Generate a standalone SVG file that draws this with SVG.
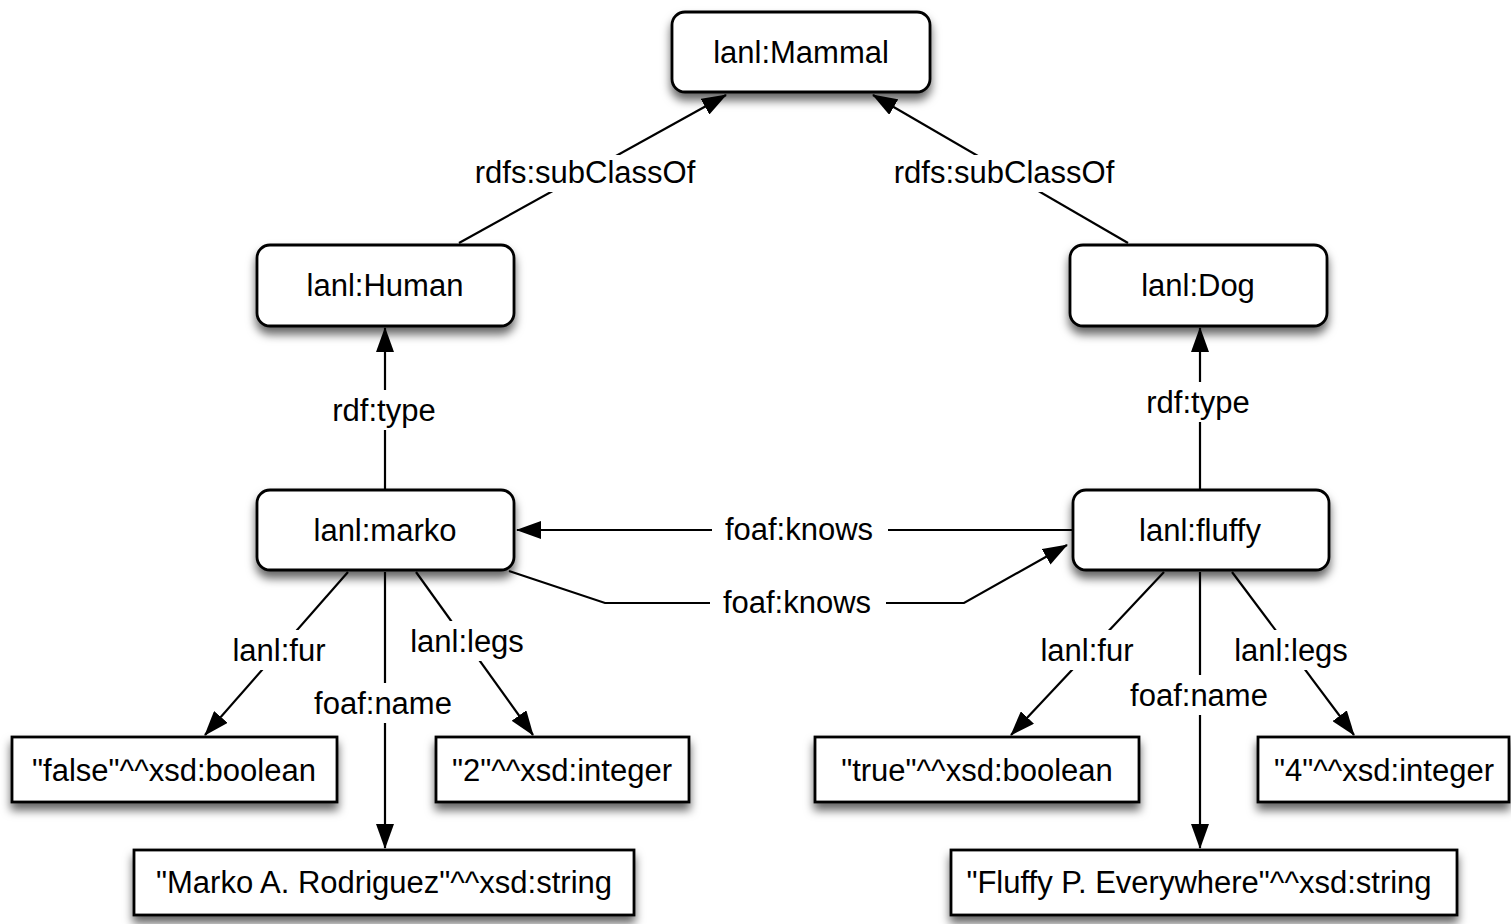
<svg xmlns="http://www.w3.org/2000/svg" width="1511" height="924" viewBox="0 0 1511 924">
<style>
.node rect{fill:#fff;stroke:#000;stroke-width:2.8;filter:url(#sh)}
.node text,.lbl text{font-family:"Liberation Sans",Arial,sans-serif;font-size:31px;fill:#000;text-anchor:middle}
.conn line,.conn polyline{stroke:#000;stroke-width:2.2;fill:none;marker-end:url(#ah)}
.lbl rect{fill:#fff;stroke:none}
</style>
<defs>
<filter id="sh" x="-20%" y="-30%" width="140%" height="180%">
<feDropShadow dx="0" dy="7" stdDeviation="5" flood-color="#000" flood-opacity="0.6"/>
</filter>
<marker id="ah" viewBox="0 0 25 18" refX="24" refY="9" markerWidth="25" markerHeight="18" markerUnits="userSpaceOnUse" orient="auto">
<path d="M0,0 L25,9 L0,18 Z" fill="#000"/>
</marker>
</defs>
<g id="connectors" class="conn">
<line x1="459" y1="243" x2="726" y2="95"/>
<line x1="1128" y1="243" x2="873" y2="95"/>
<line x1="385" y1="490" x2="385" y2="328"/>
<line x1="1200" y1="490" x2="1200" y2="328"/>
<line x1="1073" y1="530" x2="517" y2="530"/>
<polyline points="509,571 605,603 964,603 1067,545"/>
<line x1="348" y1="572" x2="205" y2="735"/>
<line x1="416" y1="572" x2="533" y2="735"/>
<line x1="385" y1="572" x2="385" y2="848"/>
<line x1="1164" y1="572" x2="1011" y2="735"/>
<line x1="1232" y1="572" x2="1354" y2="735"/>
<line x1="1200" y1="572" x2="1200" y2="848"/>
</g>
<g id="labels" class="lbl">
<rect x="466" y="155" width="238" height="37"/><text x="585" y="183">rdfs:subClassOf</text>
<rect x="885" y="155" width="238" height="37"/><text x="1004" y="183">rdfs:subClassOf</text>
<rect x="326" y="390" width="118" height="40"/><text x="384" y="421">rdf:type</text>
<rect x="1140" y="382" width="118" height="40"/><text x="1198" y="413">rdf:type</text>
<rect x="712" y="510" width="176" height="40"/><text x="799" y="540">foaf:knows</text>
<rect x="710" y="583" width="176" height="40"/><text x="797" y="613">foaf:knows</text>
<rect x="226" y="630" width="106" height="40"/><text x="279" y="661">lanl:fur</text>
<rect x="406" y="621" width="122" height="40"/><text x="467" y="652">lanl:legs</text>
<rect x="308" y="683" width="150" height="40"/><text x="383" y="714">foaf:name</text>
<rect x="1034" y="630" width="106" height="40"/><text x="1087" y="661">lanl:fur</text>
<rect x="1230" y="630" width="122" height="40"/><text x="1291" y="661">lanl:legs</text>
<rect x="1124" y="675" width="150" height="40"/><text x="1199" y="706">foaf:name</text>
</g>
<g id="mammal" class="node"><rect x="672" y="12" width="258" height="80" rx="13"/><text x="801" y="63">lanl:Mammal</text></g>
<g id="human" class="node"><rect x="257" y="245" width="257" height="81" rx="13"/><text x="385" y="296">lanl:Human</text></g>
<g id="dog" class="node"><rect x="1070" y="245" width="257" height="81" rx="13"/><text x="1198" y="296">lanl:Dog</text></g>
<g id="marko" class="node"><rect x="257" y="490" width="257" height="80" rx="13"/><text x="385" y="541">lanl:marko</text></g>
<g id="fluffy" class="node"><rect x="1073" y="490" width="256" height="80" rx="13"/><text x="1200" y="541">lanl:fluffy</text></g>
<g id="false" class="node"><rect x="12" y="737" width="325" height="65"/><text x="174" y="781">"false"^^xsd:boolean</text></g>
<g id="two" class="node"><rect x="436" y="737" width="253" height="65"/><text x="562" y="781">"2"^^xsd:integer</text></g>
<g id="markoname" class="node"><rect x="134" y="850" width="500" height="65"/><text x="384" y="893">"Marko A. Rodriguez"^^xsd:string</text></g>
<g id="true" class="node"><rect x="815" y="737" width="324" height="65"/><text x="977" y="781">"true"^^xsd:boolean</text></g>
<g id="four" class="node"><rect x="1258" y="737" width="251" height="65"/><text x="1384" y="781">"4"^^xsd:integer</text></g>
<g id="fluffyname" class="node"><rect x="951" y="850" width="506" height="65"/><text x="1199" y="893">"Fluffy P. Everywhere"^^xsd:string</text></g>
</svg>
